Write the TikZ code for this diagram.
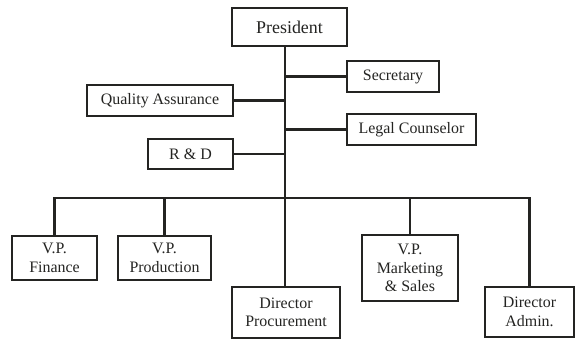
\documentclass[tikz,border=0pt]{standalone}
\usepackage{fontspec}
\setmainfont{Liberation Serif}
\definecolor{ink}{RGB}{36,36,34}
\begin{document}
\begin{tikzpicture}[x=1bp,y=-1bp,
  box/.style={draw=ink, line width=2.2bp, text=ink, inner sep=0pt, align=center,
    font=\fontsize{16}{18.5}\selectfont},
  link/.style={draw=ink, line width=2.7bp}]
\useasboundingbox[fill=white] (0,0) rectangle (580,341);

% top of the chart
\node[box, minimum width=115bp, minimum height=38bp, font=\fontsize{18}{20}\selectfont] (pres) at (289.5,27) {President};
\node[box, minimum width=92bp,  minimum height=31bp] (sec)   at (393,76.5)   {Secretary};
\node[box, minimum width=146bp, minimum height=31bp] (qa)    at (160,100.5)  {Quality Assurance};
\node[box, minimum width=129bp, minimum height=31bp] (legal) at (411.5,129.5) {Legal Counselor};
\node[box, minimum width=85bp,  minimum height=30bp] (rd)    at (190.5,154)  {R \& D};

% second level
\node[box, minimum width=85bp, minimum height=44bp]  (fin)  at (54.5,258)  {V.P.\\Finance};
\node[box, minimum width=93bp, minimum height=44bp]  (prod) at (164.5,258) {V.P.\\Production};
\node[box, minimum width=108bp, minimum height=51bp] (proc) at (286,312.5) {Director\\Procurement};
\node[box, minimum width=96bp, minimum height=66bp]  (mkt)  at (410,268)   {V.P.\\Marketing\\\& Sales};
\node[box, minimum width=89bp, minimum height=50bp]  (adm)  at (529.5,312) {Director\\Admin.};

% trunk and bus
\coordinate (trunk) at (285,46);
\coordinate (bus) at (285,198);
\draw[link] (trunk) -- (trunk |- proc.north);
\draw[link] (fin.north) -- (fin.north |- bus) -- (adm.north |- bus) -- (adm.north);
\draw[link] (prod.north) -- (prod.north |- bus);
\draw[link] (mkt.north) -- (mkt.north |- bus);

% staff branches
\draw[link] (sec.west) -- (sec.west -| trunk);
\draw[link] (qa.east) -- (qa.east -| trunk);
\draw[link] (legal.west) -- (legal.west -| trunk);
\draw[link] (rd.east) -- (rd.east -| trunk);
\end{tikzpicture}
\end{document}
